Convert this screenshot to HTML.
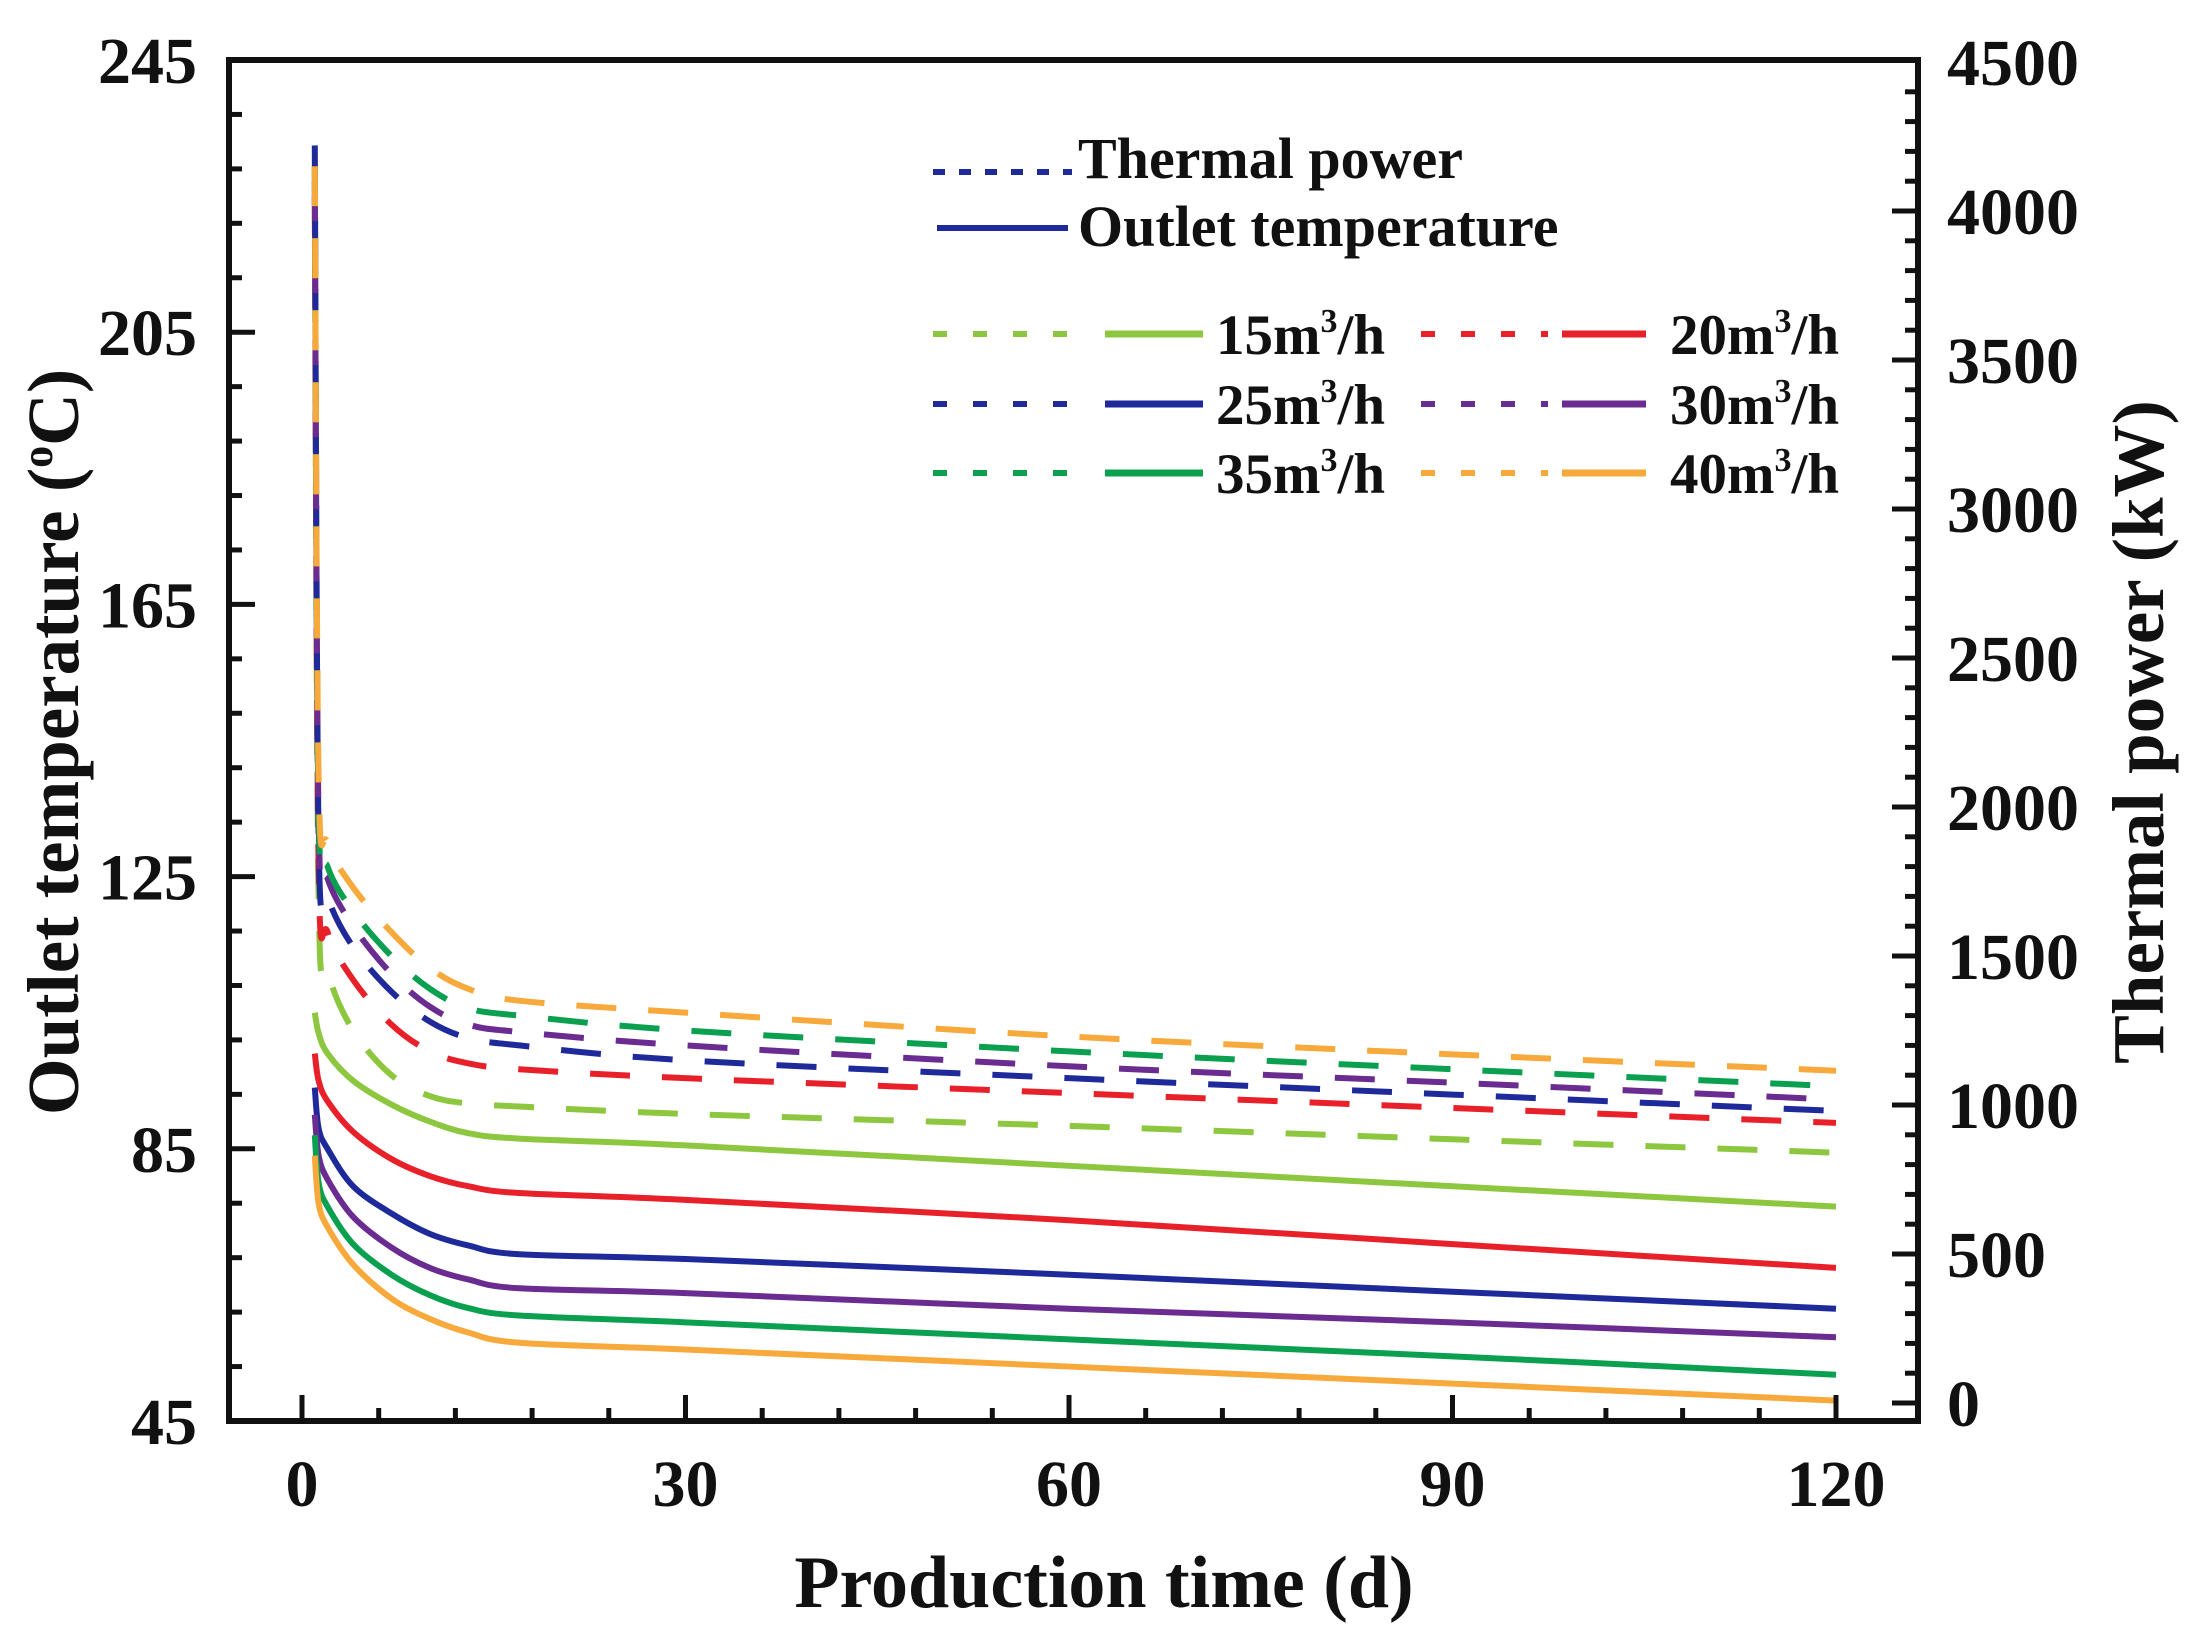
<!DOCTYPE html>
<html><head><meta charset="utf-8"><style>
html,body{margin:0;padding:0;background:#fff;}
svg text{font-family:"Liberation Serif",serif;font-weight:bold;fill:#111;}
</style></head><body>
<svg id="chart" width="2195" height="1633" viewBox="0 0 2195 1633" xmlns="http://www.w3.org/2000/svg">
<g id="plot"></g>
<g id="axes"></g>
<g id="legend"></g>
</svg>
<script>
const xs = [1, 1.3, 2, 4, 7, 10, 13, 17, 30, 60, 90, 120];
const seriesNames = ['15m³/h','20m³/h','25m³/h','30m³/h','35m³/h','40m³/h'];
const seriesColors = ['#8dc63f','#e8202a','#1f2a9a','#6a2c91','#0aa04f','#f7a93b'];
const temp15 = [105, 102, 99, 95, 91.5, 89, 87.3, 86.5, 85.5, 82.5, 79.5, 76.5];
const temp20 = [99, 95, 92, 87.5, 83.5, 81, 79.5, 78.5, 77.5, 74.5, 71, 67.5];
const temp25 = [94, 88, 85, 79.5, 75.5, 72.5, 70.8, 69.5, 68.8, 66.5, 64, 61.5];
const temp30 = [90, 84, 80.5, 75, 70.5, 67.5, 65.8, 64.5, 63.8, 61.5, 59.5, 57.3];
const temp35 = [87, 80, 76.5, 71, 66.5, 63.5, 61.6, 60.5, 59.5, 57, 54.5, 51.8];
const temp40 = [84, 77, 73.5, 68, 63, 60, 58, 56.5, 55.5, 53, 50.5, 48];
const power15 = [4000, 1700, 1450, 1250, 1100, 1030, 1005, 995, 970, 930, 885, 840];
const power20 = [4050, 1800, 1580, 1420, 1270, 1180, 1140, 1120, 1090, 1040, 990, 940];
const power25 = [4220, 1900, 1700, 1530, 1380, 1280, 1225, 1200, 1150, 1090, 1035, 980];
const power30 = [4100, 1950, 1760, 1600, 1440, 1330, 1270, 1245, 1200, 1130, 1075, 1018];
const power35 = [4150, 2000, 1800, 1650, 1500, 1390, 1325, 1300, 1250, 1180, 1120, 1063];
const power40 = [4150, 2100, 1880, 1730, 1580, 1460, 1390, 1350, 1310, 1230, 1170, 1115];
const xTicks = [0, 30, 60, 90, 120];
const yLeftTicks = [45, 85, 125, 165, 205, 245];
const yRightTicks = [0, 500, 1000, 1500, 2000, 2500, 3000, 3500, 4000, 4500];

const NS='http://www.w3.org/2000/svg';
const L=229,R=1918,T=60,B=1421;
const X=v=>302+(v)*(1836-302)/120;
const YL=v=>B-(v-45)*(B-T)/200;
const YR=v=>1403-v*(1403-62)/4500;
function mk(tag,attrs,parent){const e=document.createElementNS(NS,tag);for(const k in attrs)e.setAttribute(k,attrs[k]);parent.appendChild(e);return e;}
const plot=document.getElementById('plot'),axes=document.getElementById('axes'),leg=document.getElementById('legend');
const temps=[temp15,temp20,temp25,temp30,temp35,temp40];
const powers=[power15,power20,power25,power30,power35,power40];
function pathD(pts){let d='M'+pts[0][0]+','+pts[0][1];for(let i=0;i<pts.length-1;i++){const p0=pts[i-1]||pts[i],p1=pts[i],p2=pts[i+1],p3=pts[i+2]||p2;const c1x=p1[0]+(p2[0]-p0[0])/6,c1y=p1[1]+(p2[1]-p0[1])/6,c2x=p2[0]-(p3[0]-p1[0])/6,c2y=p2[1]-(p3[1]-p1[1])/6;d+=' C'+c1x+','+c1y+' '+c2x+','+c2y+' '+p2[0]+','+p2[1];}return d;}
for(let s=0;s<6;s++){
  const tp=xs.map((x,i)=>[X(x),YL(temps[s][i])]);
  const p=mk('path',{d:pathD(tp),fill:'none',stroke:seriesColors[s],'stroke-width':6},plot);
  
  
  const pp=xs.map((x,i)=>[X(x),YR(powers[s][i])]);
  const q=mk('path',{d:pathD(pp),fill:'none',stroke:seriesColors[s],'stroke-width':6,'stroke-dasharray':'40 32'},plot);
  
  
}
const fr=mk('rect',{x:L,y:T,width:R-L,height:B-T,fill:'none',stroke:'#111','stroke-width':6},axes);


for(let v=0;v<=120;v+=6){const maj=v%30===0;mk('line',{x1:X(v),x2:X(v),y1:B,y2:B-(maj?26:13),stroke:'#111','stroke-width':5},axes);}
xTicks.forEach(v=>{const t=mk('text',{x:X(v),y:1506,'font-size':66,'text-anchor':'middle'},axes);t.textContent=v;

});
for(let v=45;v<=245;v+=8){if(v===45||v===245)continue;const maj=(v-45)%40===0;mk('line',{x1:L,x2:L+(maj?26:13),y1:YL(v),y2:YL(v),stroke:'#111','stroke-width':5},axes);}
yLeftTicks.forEach(v=>{const t=mk('text',{x:197,y:YL(v)+23,'font-size':66,'text-anchor':'end'},axes);t.textContent=v;

});
for(let v=0;v<=4400;v+=100){const maj=v%500===0;mk('line',{x1:R,x2:R-(maj?26:13),y1:YR(v),y2:YR(v),stroke:'#111','stroke-width':5},axes);}
yRightTicks.forEach(v=>{const t=mk('text',{x:1947,y:YR(v)+23,'font-size':66,'text-anchor':'start'},axes);t.textContent=v;

});
let t=mk('text',{x:1104,y:1607,'font-size':74,'text-anchor':'middle'},axes);t.textContent='Production time (d)';


t=mk('text',{x:0,y:0,'font-size':73,'text-anchor':'middle',transform:'translate(78,742) rotate(-90)'},axes);t.innerHTML='Outlet temperature (<tspan font-size="44" dy="-26">o</tspan><tspan dy="26">C)</tspan>';


t=mk('text',{x:0,y:0,'font-size':73,'text-anchor':'middle',transform:'translate(2163,732) rotate(-90)'},axes);t.textContent='Thermal power (kW)';


mk('line',{x1:933,x2:1072,y1:172,y2:172,stroke:'#1f2a9a','stroke-width':6,'stroke-dasharray':'12 14'},leg);
t=mk('text',{x:1078,y:178,'font-size':58},leg);t.textContent='Thermal power';


mk('line',{x1:937,x2:1068,y1:228,y2:228,stroke:'#1f2a9a','stroke-width':6},leg);
t=mk('text',{x:1078,y:246,'font-size':58},leg);t.textContent='Outlet temperature';


const rowsY=[334,404,473];
for(let s=0;s<6;s++){const col=s%2,row=Math.floor(s/2);const y=rowsY[row];
 const d0=col?1421:933, d1=col?1548:1075, s0=col?1562:1105, s1=col?1646:1203;
 mk('line',{x1:d0,x2:d1,y1:y,y2:y,stroke:seriesColors[s],'stroke-width':6,'stroke-dasharray':'14 26'},leg);
 mk('line',{x1:s0,x2:s1,y1:y,y2:y,stroke:seriesColors[s],'stroke-width':7},leg);
 const tx=mk('text',{x:col?1670:1216,y:y+20,'font-size':57},leg);tx.innerHTML=seriesNames[s].replace('³','<tspan font-size="34" dy="-22">3</tspan><tspan dy="22">')+'</tspan>';
 
 }
</script>
</body></html>
